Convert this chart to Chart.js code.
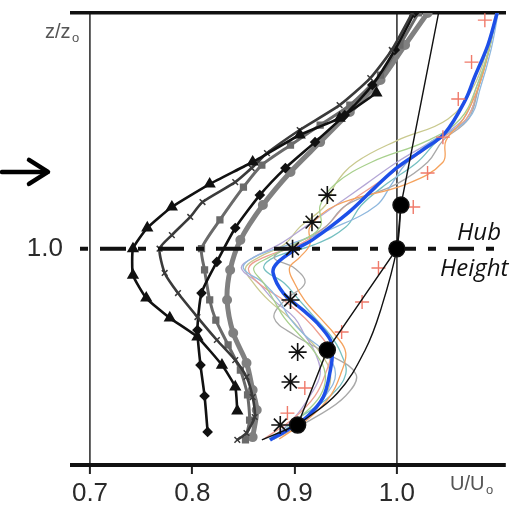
<!DOCTYPE html>
<html>
<head>
<meta charset="utf-8">
<title>Velocity profiles</title>
<script src="https://cdn.jsdelivr.net/npm/chart.js@4.4.1/dist/chart.umd.min.js"></script>
<style>
    html, body { margin: 0; padding: 0; background: #fff; }
    canvas { display: block; }
</style>
</head>
<body>
<canvas id="profileChart" width="530" height="508"></canvas>
<script>
// Axis ranges (U/U0 across, z/z0 up)
const X_MIN = 0.6824, X_MAX = 1.1057;
const Y_MIN = 0, Y_MAX = 2.09;
const xTicks = [0.7, 0.8, 0.9, 1.0];
const yTicks = [1.0];
const gridAt = [0.7, 1.0];
const hubZ = 1.0;
const arrowZ = 1.355;

// Dark profiles (model data)
const triU = [0.844, 0.842, 0.829, 0.805, 0.778, 0.755, 0.742, 0.742, 0.756, 0.780, 0.817, 0.859, 0.905, 0.944, 0.980];
const triZ = [0.250, 0.361, 0.462, 0.592, 0.680, 0.772, 0.878, 1.000, 1.096, 1.193, 1.299, 1.401, 1.526, 1.604, 1.720];

const crsU = [0.844, 0.853, 0.861, 0.859, 0.853, 0.842, 0.824, 0.805, 0.786, 0.773, 0.768, 0.780, 0.798, 0.810, 0.842, 0.858, 0.873, 0.905, 0.944, 0.974, 0.995, 1.015];
const crsZ = [0.116, 0.148, 0.222, 0.314, 0.407, 0.485, 0.578, 0.684, 0.795, 0.888, 1.000, 1.063, 1.147, 1.216, 1.308, 1.373, 1.442, 1.549, 1.664, 1.789, 1.919, 2.090];

const sqrU = [0.852, 0.856, 0.854, 0.847, 0.835, 0.823, 0.817, 0.812, 0.809, 0.827, 0.850, 0.868, 0.896, 0.925, 0.954, 0.984, 1.003, 1.021];
const sqrZ = [0.116, 0.208, 0.324, 0.439, 0.555, 0.670, 0.763, 0.902, 1.000, 1.133, 1.285, 1.387, 1.479, 1.572, 1.664, 1.803, 1.942, 2.090];

const dmdU = [0.815, 0.812, 0.808, 0.805, 0.809, 0.824, 0.842, 0.866, 0.891, 0.920, 0.949, 0.976, 0.998, 1.017];
const dmdZ = [0.153, 0.319, 0.462, 0.624, 0.795, 0.939, 1.096, 1.248, 1.373, 1.493, 1.618, 1.757, 1.919, 2.090];

const gryU = [0.859, 0.863, 0.859, 0.853, 0.840, 0.834, 0.837, 0.847, 0.869, 0.896, 0.925, 0.954, 0.984, 1.008, 1.030];
const gryZ = [0.129, 0.254, 0.347, 0.472, 0.610, 0.763, 0.902, 1.040, 1.202, 1.355, 1.493, 1.632, 1.780, 1.942, 2.090];

// Blue mean profile
const blueU = [0.876, 0.893, 0.912, 0.928, 0.935, 0.937, 0.935, 0.922, 0.908, 0.889, 0.879, 0.883, 0.902, 0.917, 0.952, 0.979, 1.001, 1.025, 1.047, 1.067, 1.076, 1.089, 1.098];
const blueZ = [0.116, 0.162, 0.222, 0.314, 0.439, 0.518, 0.578, 0.657, 0.717, 0.795, 0.888, 0.934, 1.000, 1.040, 1.165, 1.285, 1.378, 1.456, 1.535, 1.688, 1.794, 1.942, 2.090];

// Thin coloured profiles, all on the same heights
const thinZ = [0.12, 0.22, 0.32, 0.42, 0.52, 0.60, 0.68, 0.76, 0.84, 0.91, 0.96, 1.02, 1.10, 1.20, 1.30, 1.40, 1.50, 1.60, 1.75, 1.92, 2.09];
const thinGreen  = [0.880, 0.905, 0.925, 0.930, 0.920, 0.905, 0.890, 0.880, 0.870, 0.860, 0.875, 0.900, 0.925, 0.925, 0.940, 0.975, 1.030, 1.062, 1.078, 1.090, 1.097];
const thinOrange = [0.885, 0.915, 0.935, 0.945, 0.950, 0.940, 0.925, 0.910, 0.900, 0.895, 0.905, 0.915, 0.915, 0.940, 1.010, 1.045, 1.048, 1.065, 1.080, 1.090, 1.097];
const thinBlue   = [0.875, 0.910, 0.930, 0.940, 0.930, 0.910, 0.895, 0.885, 0.870, 0.850, 0.860, 0.895, 0.940, 0.980, 0.995, 1.010, 1.035, 1.070, 1.082, 1.092, 1.099];
const thinGray   = [0.880, 0.920, 0.950, 0.960, 0.930, 0.900, 0.880, 0.890, 0.910, 0.900, 0.880, 0.900, 0.930, 0.950, 1.000, 1.030, 1.045, 1.070, 1.080, 1.090, 1.098];
const thinSalmon = [0.870, 0.900, 0.920, 0.930, 0.935, 0.925, 0.910, 0.890, 0.865, 0.855, 0.870, 0.905, 0.930, 0.950, 0.980, 1.010, 1.040, 1.068, 1.080, 1.090, 1.097];
const thinPurple = [0.878, 0.900, 0.915, 0.925, 0.920, 0.910, 0.900, 0.880, 0.865, 0.848, 0.860, 0.885, 0.910, 0.940, 0.970, 1.000, 1.035, 1.065, 1.078, 1.090, 1.097];
const thinTeal   = [0.875, 0.905, 0.935, 0.950, 0.945, 0.935, 0.920, 0.905, 0.890, 0.870, 0.880, 0.920, 0.950, 0.965, 0.990, 1.020, 1.040, 1.068, 1.080, 1.090, 1.098];
const thinOlive  = [0.880, 0.910, 0.930, 0.935, 0.925, 0.910, 0.895, 0.875, 0.860, 0.852, 0.865, 0.890, 0.905, 0.930, 0.940, 0.960, 1.000, 1.050, 1.075, 1.088, 1.097];

// Markers: red plus, black asterisks
const plusU = [1.086, 1.073, 1.060, 1.045, 1.030, 1.016, 0.982, 0.966, 0.946, 0.910, 0.893];
const plusZ = [2.057, 1.863, 1.692, 1.516, 1.350, 1.193, 0.911, 0.754, 0.615, 0.356, 0.240];
const starU = [0.932, 0.917, 0.898, 0.896, 0.903, 0.896, 0.886];
const starZ = [1.248, 1.123, 1.000, 0.763, 0.522, 0.384, 0.185];

// Big black dots, joined by straight line, plus a curved fit
const dotU = [0.868, 0.903, 0.932, 1.000, 1.004, 1.042];
const dotZ = [0.116, 0.185, 0.532, 1.000, 1.202, 2.120];
const dotR = [0, 8, 8, 8, 8, 0];
const fitU = [0.903, 0.942, 0.969, 0.985, 1.000, 1.004];
const fitZ = [0.185, 0.333, 0.532, 0.730, 1.000, 1.202];

const pts = (u, z) => u.map((v, i) => ({ x: v, y: z[i] }));

function profile(u, z, color, width, extra) {
    return Object.assign({
        data: pts(u, z),
        showLine: true,
        borderColor: color,
        backgroundColor: color,
        borderWidth: width,
        pointRadius: 0,
        tension: 0.3,
        fill: false
    }, extra || {});
}

function thin(u, color) {
    return profile(u, thinZ, color, 1.3, { tension: 0.4 });
}

// Text and the flow arrow
const overlay = {
    id: 'overlay',
    afterDraw(chart) {
        const { ctx, scales } = chart;
        const hy = scales.y.getPixelForValue(hubZ);
        const ay = scales.y.getPixelForValue(arrowZ);
        ctx.save();

        ctx.strokeStyle = '#000';
        ctx.lineWidth = 4.5;
        ctx.lineCap = 'round';
        ctx.lineJoin = 'round';
        ctx.beginPath();
        ctx.moveTo(2, ay);
        ctx.lineTo(47, ay);
        ctx.stroke();
        ctx.beginPath();
        ctx.moveTo(29, ay - 12);
        ctx.lineTo(48, ay);
        ctx.lineTo(29, ay + 12);
        ctx.stroke();

        ctx.fillStyle = '#555';
        ctx.textBaseline = 'alphabetic';
        ctx.font = '20px "Liberation Sans"';
        ctx.fillText('z/z', 45, 38);
        ctx.fillText('U/U', 450, 490);
        ctx.font = '13px "Liberation Sans"';
        ctx.fillText('o', 72, 42);
        ctx.fillText('o', 486, 494);

        ctx.fillStyle = '#111';
        ctx.font = 'italic 24px "Open Sans"';
        ctx.fillText('Hub', 457, hy - 9);
        ctx.fillText('Height', 440, hy + 27);
        ctx.restore();
    }
};

const ctx = document.getElementById('profileChart').getContext('2d');
new Chart(ctx, {
    type: 'scatter',
    data: {
        datasets: [
            profile(dotU, dotZ, '#111', 1.4, { tension: 0, pointRadius: dotR, pointBackgroundColor: '#000' }),
            profile(fitU, fitZ, '#111', 1.4, { tension: 0.4 }),
            { data: pts(starU, starZ), pointStyle: 'star', pointRadius: 9, borderColor: '#111', pointBorderWidth: 1.6 },
            { data: pts(plusU, plusZ), pointStyle: 'cross', pointRadius: 7, borderColor: '#f07a6a', pointBorderWidth: 1.4 },
            profile([X_MIN, X_MAX], [hubZ, hubZ], '#111', 4, { tension: 0, borderDash: [26, 12, 8, 12], borderDashOffset: 30 }),
            profile(triU, triZ, '#111', 2.6, { pointStyle: 'triangle', pointRadius: 4.5, tension: 0.15 }),
            profile(crsU, crsZ, '#3a3a3a', 2.6, { pointStyle: 'crossRot', pointRadius: 4, pointBorderWidth: 1.5, tension: 0.2 }),
            profile(dmdU, dmdZ, '#111', 2.6, { pointStyle: 'rectRot', pointRadius: 3.5, tension: 0.2 }),
            profile(sqrU, sqrZ, '#6a6a6a', 3, { pointStyle: 'rect', pointRadius: 3, tension: 0.2 }),
            profile(gryU, gryZ, '#808080', 5, { pointStyle: 'circle', pointRadius: 2.5 }),
            profile(blueU, blueZ, '#1d4fe8', 3.5, { tension: 0.35 }),
            thin(thinGreen, '#a8d08d'),
            thin(thinOrange, '#f5a25d'),
            thin(thinBlue, '#8fb8de'),
            thin(thinGray, '#a9a9a9'),
            thin(thinSalmon, '#ee9f92'),
            thin(thinPurple, '#b4a7d6'),
            thin(thinTeal, '#76c0c1'),
            thin(thinOlive, '#c9c98f')
        ]
    },
    options: {
        responsive: false,
        animation: false,
        layout: { padding: { left: 0, right: 25, top: 13, bottom: 0 } },
        plugins: {
            legend: { display: false },
            tooltip: { enabled: false }
        },
        scales: {
            x: {
                type: 'linear',
                position: 'bottom',
                min: X_MIN,
                max: X_MAX,
                afterBuildTicks: scale => { scale.ticks = xTicks.map(v => ({ value: v })); },
                afterFit: scale => { scale.height = 43; },
                ticks: {
                    callback: v => v.toFixed(1),
                    font: { family: 'Liberation Sans', size: 26 },
                    color: '#2a2a2a',
                    padding: 4,
                    maxRotation: 0,
                    autoSkip: false
                },
                grid: {
                    color: c => (c.tick && gridAt.includes(c.tick.value)) ? '#4a4a4a' : 'rgba(0,0,0,0)',
                    lineWidth: 1.8,
                    tickColor: '#222',
                    tickLength: 9,
                    tickWidth: 2
                },
                border: { display: true, color: '#111', width: 4 }
            },
            xTop: {
                type: 'linear',
                position: 'top',
                min: X_MIN,
                max: X_MAX,
                afterFit: scale => { scale.height = 0; },
                ticks: { display: false },
                grid: { display: false, drawTicks: false },
                border: { display: true, color: '#111', width: 3.5 }
            },
            y: {
                type: 'linear',
                min: Y_MIN,
                max: Y_MAX,
                afterBuildTicks: scale => { scale.ticks = yTicks.map(v => ({ value: v })); },
                afterFit: scale => {
                    scale.width = 72;
                    scale.paddingTop = 0;
                    scale.paddingBottom = 0;
                },
                ticks: {
                    callback: v => v.toFixed(1),
                    font: { family: 'Liberation Sans', size: 26 },
                    color: '#2a2a2a',
                    padding: 9
                },
                grid: { display: false, drawTicks: false },
                border: { display: false }
            }
        }
    },
    plugins: [overlay]
});
</script>
</body>
</html>
